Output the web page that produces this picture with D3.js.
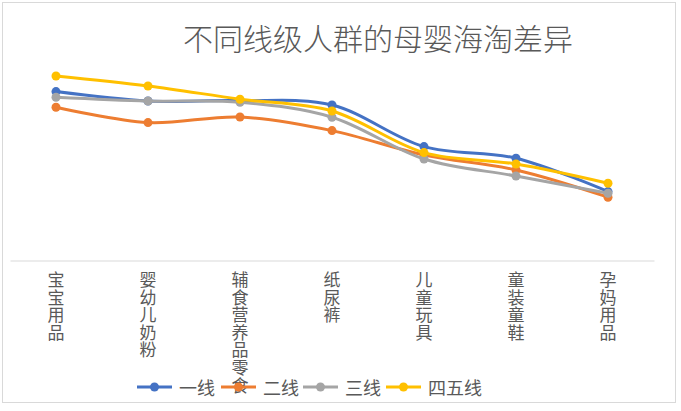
<!DOCTYPE html>
<html>
<head>
<meta charset="utf-8">
<script src="https://cdn.jsdelivr.net/npm/d3@7"></script>
<style>
  html, body { margin: 0; padding: 0; background: #fff; }
  svg { display: block; }
  text { font-family: "Noto Sans CJK SC", "Noto Sans", sans-serif; fill: #595959; }
</style>
</head>
<body>
<svg id="chart" width="681" height="411"></svg>
<script>
const title = "不同线级人群的母婴海淘差异";
const categories = ["宝宝用品", "婴幼儿奶粉", "辅食营养品零食", "纸尿裤", "儿童玩具", "童装童鞋", "孕妈用品"];
const seriesNames = ["一线", "二线", "三线", "四五线"];
const seriesColors = ["#4472C4", "#ED7D31", "#A5A5A5", "#FFC000"];
const tier1 = [84.2, 79.5, 79.7, 77.5, 56.7, 50.9, 34.2];
const tier2 = [76.4, 68.7, 71.5, 64.7, 52.5, 45.0, 31.4];
const tier3 = [81.4, 79.5, 78.9, 71.4, 50.5, 42.0, 33.4];
const tier45 = [92.0, 87.0, 80.4, 74.5, 53.7, 48.0, 38.4];
const seriesValues = [tier1, tier2, tier3, tier45];

const svg = d3.select("#chart");

// outer border
svg.append("rect")
  .attr("x", 2.5).attr("y", 2.5).attr("width", 673).attr("height", 400)
  .attr("fill", "#fff").attr("stroke", "#D9D9D9").attr("stroke-width", 1);

const x = d3.scaleBand().domain(categories).range([10, 654]);
const y = d3.scaleLinear().domain([0, 100]).range([260, 60]);

// title
svg.append("text")
  .attr("x", 378).attr("y", 50)
  .attr("text-anchor", "middle")
  .style("font-size", "30px")
  .style("font-weight", "300")
  .text(title);

// category axis
const axis = svg.append("g").attr("transform", "translate(0,260.5)")
  .call(d3.axisBottom(x).tickSize(0).tickFormat(""));
axis.select(".domain").attr("stroke", "#D9D9D9").attr("stroke-width", 1);

// vertical category labels
const lab = svg.append("g");
categories.forEach(c => {
  lab.append("text")
    .attr("x", x(c) + x.bandwidth() / 2)
    .attr("y", 271)
    .attr("text-anchor", "start")
    .style("writing-mode", "vertical-rl")
    .style("text-orientation", "upright")
    .style("font-size", "17px")
    .style("letter-spacing", "0.6px")
    .text(c);
});

// lines
const line = d3.line()
  .x((d, i) => x(categories[i]) + x.bandwidth() / 2)
  .y(d => y(d))
  .curve(d3.curveCatmullRom.alpha(0.5));

seriesValues.forEach((vals, si) => {
  const g = svg.append("g");
  g.append("path")
    .datum(vals)
    .attr("d", line)
    .attr("fill", "none")
    .attr("stroke", seriesColors[si])
    .attr("stroke-width", 3)
    .attr("stroke-linecap", "round");
  g.selectAll("circle").data(vals).join("circle")
    .attr("cx", (d, i) => x(categories[i]) + x.bandwidth() / 2)
    .attr("cy", d => y(d))
    .attr("r", 4.5)
    .attr("fill", seriesColors[si]);
});

// legend
const legendX = [137, 221, 303, 386];
const legend = svg.append("g");
seriesNames.forEach((name, i) => {
  const lx = legendX[i];
  legend.append("line")
    .attr("x1", lx).attr("x2", lx + 35)
    .attr("y1", 387).attr("y2", 387)
    .attr("stroke", seriesColors[i]).attr("stroke-width", 3);
  legend.append("circle")
    .attr("cx", lx + 17.5).attr("cy", 387).attr("r", 4.5)
    .attr("fill", seriesColors[i]);
  legend.append("text")
    .attr("x", lx + 42).attr("y", 395)
    .style("font-size", "18px")
    .text(name);
});
</script>
</body>
</html>
